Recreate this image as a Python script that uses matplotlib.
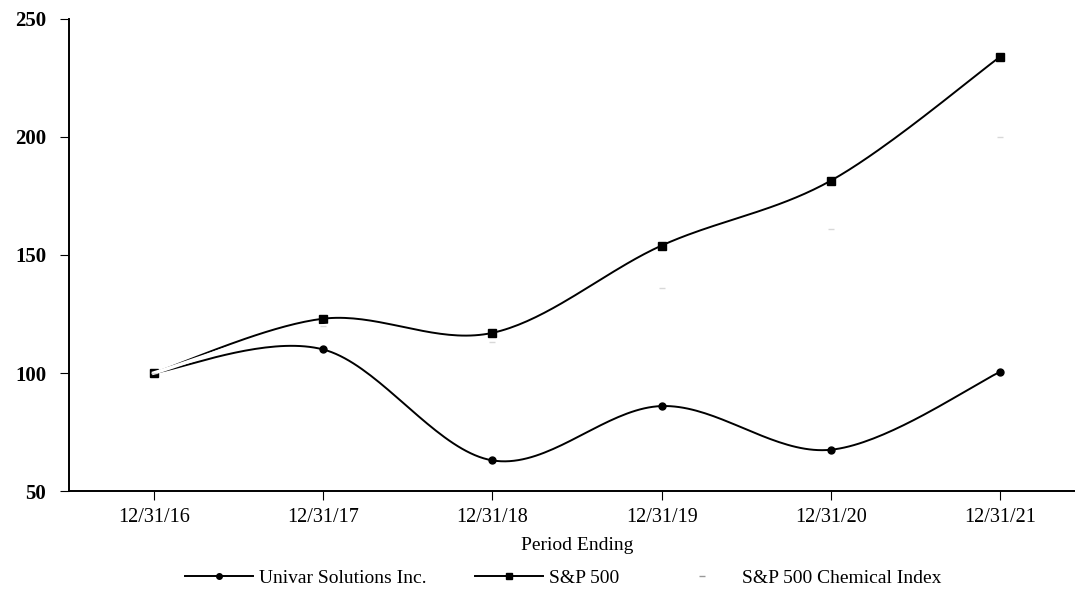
import numpy as np
import matplotlib.pyplot as plt
from matplotlib.lines import Line2D

# data
periods = ['12/31/16', '12/31/17', '12/31/18', '12/31/19', '12/31/20', '12/31/21']
univar = [100, 110, 63, 86, 67.5, 100.5]
sp500 = [100, 123, 117, 154, 181.5, 234]
sp_chem = [100, 120, 113, 136, 161, 200]

plt.rcParams['font.family'] = ['Liberation Serif', 'DejaVu Serif']


def smooth(ys, n=40):
    # bezier smoothing like the spreadsheet "smoothed line"
    x = np.arange(len(ys), dtype=float)
    y = np.asarray(ys, dtype=float)
    pts = np.column_stack([x, y])
    ext = np.vstack([pts[0], pts, pts[-1]])
    out = []
    t = np.linspace(0, 1, n)[:, None]
    for i in range(len(pts) - 1):
        p0 = ext[i + 1]
        p3 = ext[i + 2]
        p1 = p0 + (ext[i + 2] - ext[i]) / 6
        p2 = p3 - (ext[i + 3] - ext[i + 1]) / 6
        seg = ((1 - t) ** 3) * p0 + 3 * ((1 - t) ** 2) * t * p1 + 3 * (1 - t) * t ** 2 * p2 + t ** 3 * p3
        out.append(seg)
    out = np.vstack(out)
    return out[:, 0], out[:, 1]


fig = plt.figure(figsize=(10.75, 6.1), dpi=100)
ax = fig.add_axes([0.0642, 0.195, 0.945, 0.774])

xi = np.arange(len(periods))

sx, sy = smooth(sp500)
ax.plot(sx, sy, color='black', lw=1.4, zorder=3)
ax.plot(xi, sp500, 's', color='black', ms=5.5, zorder=4)

ux, uy = smooth(univar)
ax.plot(ux, uy, color='black', lw=1.4, zorder=3)
ax.plot(xi, univar, 'o', color='black', ms=5, zorder=4)

# chemical index is printed white in the source, only faint specks remain
cx, cy = smooth(sp_chem)
ax.plot(cx, cy, color='white', lw=2.5, zorder=5)
ax.plot(xi, sp_chem, '_', color='#d8d8d8', ms=4, zorder=6)

ax.set_xlim(-0.5, 5.5)
ax.set_ylim(50, 250)
ax.set_yticks([50, 100, 150, 200, 250])
ax.set_xticks(xi)
ax.set_xticklabels(periods)
ax.spines['top'].set_visible(False)
ax.spines['right'].set_visible(False)
ax.spines['left'].set_linewidth(1.4)
ax.spines['bottom'].set_linewidth(1.4)
ax.tick_params(axis='both', direction='out', length=6.5, width=0.8, colors='black')
ax.tick_params(axis='x', labelsize=14.5, pad=6)
ax.tick_params(axis='y', labelsize=15, pad=10)
for lab in ax.get_yticklabels():
    lab.set_fontweight('bold')
ax.set_xlabel('Period Ending', fontsize=14, labelpad=7)

handles = [
    Line2D([], [], color='black', lw=1.4, marker='o', ms=4),
    Line2D([], [], color='black', lw=1.4, marker='s', ms=5),
    Line2D([], [], color='white', lw=1.4, marker='_', ms=5, mec='#999999'),
]
labels = ['Univar Solutions Inc.', 'S&P 500', 'S&P 500 Chemical Index']
fig.legend(handles, labels, loc='center', bbox_to_anchor=(0.524, 0.052), ncol=3,
           frameon=False, fontsize=14, handlelength=3.5, handletextpad=0.3,
           columnspacing=2.5)

fig.savefig('out.png', dpi=100)
